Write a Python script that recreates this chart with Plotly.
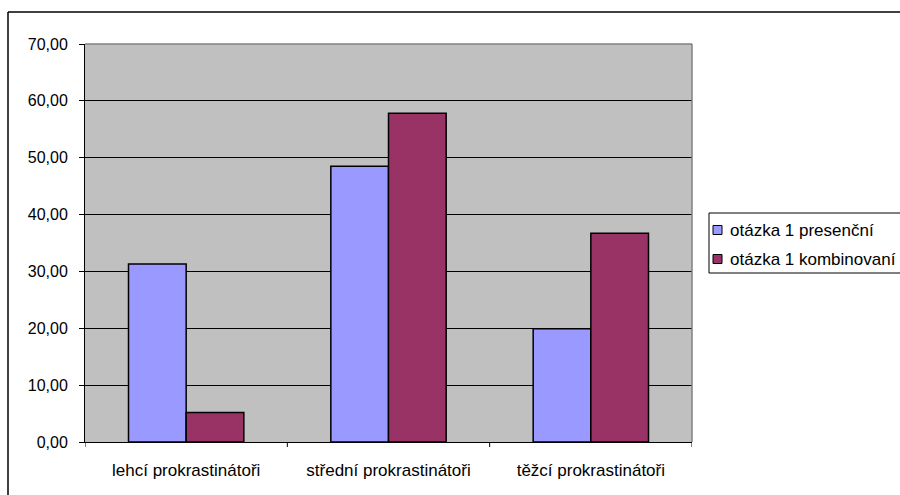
import plotly.graph_objects as go

categories = ["lehcí prokrastinátoři", "střední prokrastinátoři", "těžcí prokrastinátoři"]
presencni = [31.3, 48.5, 19.9]
kombinovani = [5.2, 57.8, 36.7]
series_names = ["otázka 1 presenční", "otázka 1 kombinovaní"]
series_colors = ["#9999FF", "#993366"]

W, H = 900, 495
L, R, T, B = 85, 692, 44, 442
pw, ph = R - L, B - T

fig = go.Figure()
fig.add_trace(go.Bar(x=categories, y=presencni, name=series_names[0],
                     marker=dict(color=series_colors[0], line=dict(color="#000000", width=1.5))))
fig.add_trace(go.Bar(x=categories, y=kombinovani, name=series_names[1],
                     marker=dict(color=series_colors[1], line=dict(color="#000000", width=1.5))))

def px_x(x):
    return (x - L) / pw

def px_y(y):
    return (B - y) / ph

shapes = [
    dict(type="line", xref="paper", yref="paper", x0=px_x(8), x1=px_x(905), y0=px_y(12), y1=px_y(12),
         line=dict(color="#000000", width=1.5)),
    dict(type="line", xref="paper", yref="paper", x0=px_x(8), x1=px_x(8), y0=px_y(12), y1=px_y(500),
         line=dict(color="#000000", width=1.5)),
    dict(type="line", xref="paper", yref="paper", x0=0, x1=1, y0=1, y1=1, line=dict(color="#808080", width=1.5)),
    dict(type="line", xref="paper", yref="paper", x0=1, x1=1, y0=0, y1=1, line=dict(color="#808080", width=1.5)),
]
for i in range(4):
    shapes.append(dict(type="line", xref="x", yref="paper", x0=i - 0.5, x1=i - 0.5,
                       y0=0, y1=-5 / ph, line=dict(color="#000000", width=1)))

# manual legend (box, swatches, labels)
shapes.append(dict(type="rect", xref="paper", yref="paper", x0=px_x(709), x1=px_x(910),
                   y0=px_y(273), y1=px_y(213), line=dict(color="#000000", width=1),
                   fillcolor="#FFFFFF", layer="above"))
annotations = []
row_y = [230, 259]
for name, col, ry in zip(series_names, series_colors, row_y):
    shapes.append(dict(type="rect", xref="paper", yref="paper", x0=px_x(713), x1=px_x(722),
                       y0=px_y(ry + 4.5), y1=px_y(ry - 4.5), line=dict(color="#000000", width=1),
                       fillcolor=col, layer="above"))
    annotations.append(dict(xref="paper", yref="paper", x=px_x(728), y=px_y(ry), text=name,
                            showarrow=False, xanchor="left", yanchor="middle",
                            font=dict(size=17, color="#000000")))

fig.update_layout(
    width=W, height=H,
    margin=dict(l=L, r=W - R, t=T, b=H - B, autoexpand=False),
    paper_bgcolor="#FFFFFF",
    plot_bgcolor="#C0C0C0",
    barmode="group",
    bargap=0.43,
    bargroupgap=0,
    separators=", ",
    font=dict(family="Liberation Sans, Arial", size=16, color="#000000"),
    xaxis=dict(showgrid=False, showline=True, linecolor="#000000", linewidth=1,
               ticks="", tickfont=dict(size=17), range=[-0.5, 2.5], fixedrange=True,
               ticklabelstandoff=13),
    yaxis=dict(range=[0, 70], dtick=10, tickformat=".2f", showgrid=True, gridcolor="#000000",
               gridwidth=1, showline=True, linecolor="#000000", linewidth=1,
               ticks="outside", ticklen=5, tickcolor="#000000", tickfont=dict(size=16),
               zeroline=False, ticklabelstandoff=8),
    shapes=shapes,
    annotations=annotations,
    showlegend=False,
)

fig.write_html("out.html")
